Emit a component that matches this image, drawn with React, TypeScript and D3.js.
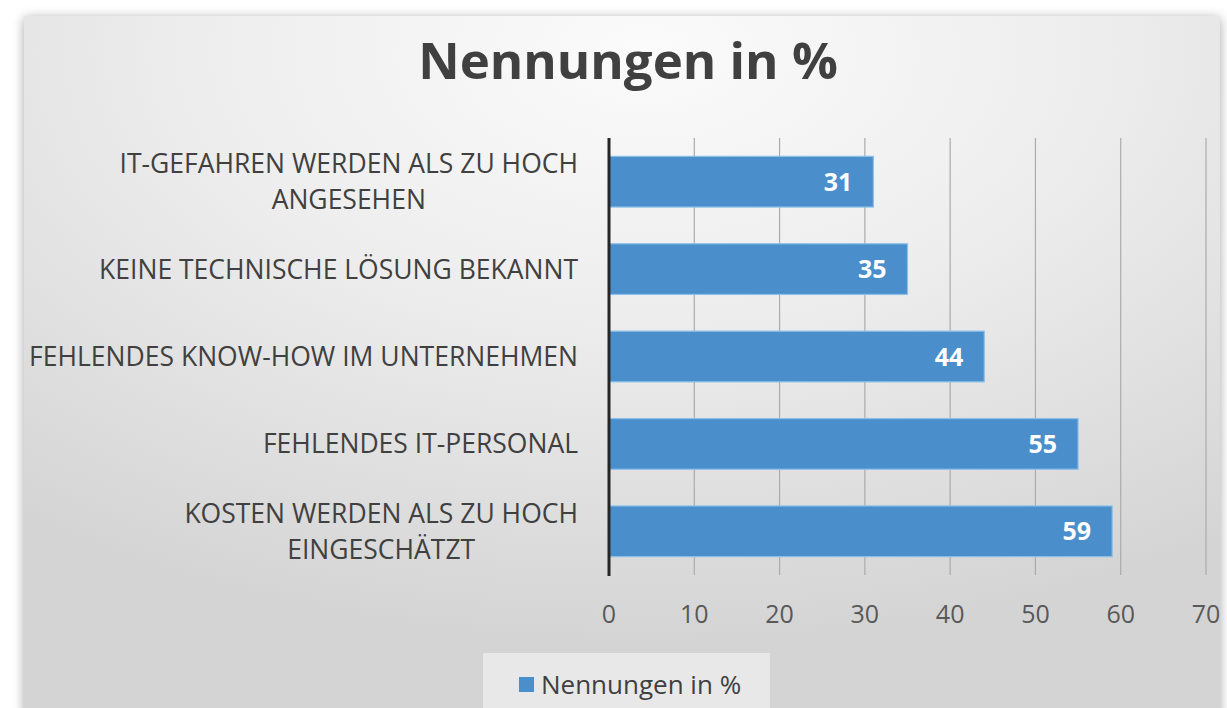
import React from "react";
import * as d3 from "d3";

const title = "Nennungen in %";
const seriesName = "Nennungen in %";
const categories: string[][] = [
  ["IT-GEFAHREN WERDEN ALS ZU HOCH", "ANGESEHEN"],
  ["KEINE TECHNISCHE LÖSUNG BEKANNT"],
  ["FEHLENDES KNOW-HOW IM UNTERNEHMEN"],
  ["FEHLENDES IT-PERSONAL"],
  ["KOSTEN WERDEN ALS ZU HOCH", "EINGESCHÄTZT"],
];
const values = [31, 35, 44, 55, 59];
const xTicks = [0, 10, 20, 30, 40, 50, 60, 70];

const W = 1227;
const H = 708;
const FONT = "'Open Sans', 'Noto Sans', sans-serif";

export default function App() {
  const x = d3.scaleLinear().domain([0, 70]).range([609, 1206]);
  const idx = categories.map((_, i) => String(i));
  const y = d3
    .scaleBand<string>()
    .domain(idx)
    .range([138, 575])
    .paddingInner(0.42)
    .paddingOuter(0.21);

  return (
    <svg
      width={W}
      height={H}
      style={{ position: "absolute", left: 0, top: 0, display: "block" }}
    >
      <defs>
        <radialGradient id="bg" cx="0.52" cy="0.05" r="0.85" fx="0.52" fy="0.05">
          <stop offset="0" stopColor="#fbfbfb" />
          <stop offset="0.45" stopColor="#ededed" />
          <stop offset="1" stopColor="#d4d4d4" />
        </radialGradient>
        <filter id="shadow" x="-5%" y="-5%" width="110%" height="110%">
          <feGaussianBlur in="SourceAlpha" stdDeviation="6" />
          <feOffset dx="0" dy="2" />
          <feComponentTransfer>
            <feFuncA type="linear" slope="0.35" />
          </feComponentTransfer>
          <feMerge>
            <feMergeNode />
            <feMergeNode in="SourceGraphic" />
          </feMerge>
        </filter>
      </defs>
      <rect x={0} y={0} width={W} height={H} fill="#ffffff" />
      <rect x={24} y={16} width={1196} height={700} fill="url(#bg)" filter="url(#shadow)" />

      <text
        x={628}
        y={79}
        textAnchor="middle"
        fontFamily={FONT}
        fontWeight={700}
        fontSize={51}
        fill="#404040"
      >
        {title}
      </text>

      {/* gridlines */}
      {xTicks.slice(1).map((t) => (
        <line
          key={t}
          x1={x(t)}
          x2={x(t)}
          y1={138}
          y2={575}
          stroke="#ababab"
          strokeWidth={1.2}
        />
      ))}

      {/* bars */}
      {values.map((v, i) => (
        <rect
          key={i}
          x={x(0)}
          y={y(String(i))}
          width={x(v) - x(0)}
          height={y.bandwidth()}
          fill="#4a8ecb"
          stroke="#8cc0e8"
          strokeWidth={1.2}
        />
      ))}

      {/* data labels */}
      {values.map((v, i) => (
        <text
          key={i}
          x={x(v) - 21}
          y={(y(String(i)) as number) + y.bandwidth() / 2}
          dy="0.36em"
          textAnchor="end"
          fontFamily={FONT}
          fontWeight={700}
          fontSize={25}
          fill="#ffffff"
        >
          {v}
        </text>
      ))}

      {/* axis line */}
      <line x1={x(0)} x2={x(0)} y1={138} y2={576} stroke="#262626" strokeWidth={3} />

      {/* category labels */}
      {categories.map((lines, i) => {
        const cy = (y(String(i)) as number) + y.bandwidth() / 2;
        const lh = 36;
        return (
          <g key={i}>
            {lines.map((ln, j) => {
              const ly = cy + (j - (lines.length - 1) / 2) * lh;
              return (
                <text
                  key={j}
                  x={lines.length > 1 ? 0 : 578}
                  y={ly}
                  dy="0.36em"
                  textAnchor={lines.length > 1 ? "middle" : "end"}
                  fontFamily={FONT}
                  fontSize={26.5}
                  fill="#404040"
                  ref={(el) => {
                    if (!el || lines.length < 2) return;
                    const parent = el.parentNode as SVGGElement;
                    const texts = Array.from(parent.querySelectorAll("text")) as SVGTextElement[];
                    const maxW = Math.max(...texts.map((t) => t.getComputedTextLength()));
                    const center = 578 - maxW / 2;
                    texts.forEach((t) => t.setAttribute("x", String(center)));
                  }}
                >
                  {ln}
                </text>
              );
            })}
          </g>
        );
      })}

      {/* x tick labels */}
      {xTicks.map((t) => (
        <text
          key={t}
          x={x(t)}
          y={614}
          dy="0.36em"
          textAnchor="middle"
          fontFamily={FONT}
          fontSize={25}
          fill="#595959"
        >
          {t}
        </text>
      ))}

      {/* legend */}
      <rect x={483} y={653} width={287} height={60} fill="#efefef" opacity={0.75} />
      <rect x={519} y={677} width={15} height={15} fill="#4a8ecb" />
      <text x={541} y={685} dy="0.36em" fontFamily={FONT} fontSize={26} fill="#404040">
        {seriesName}
      </text>
    </svg>
  );
}
